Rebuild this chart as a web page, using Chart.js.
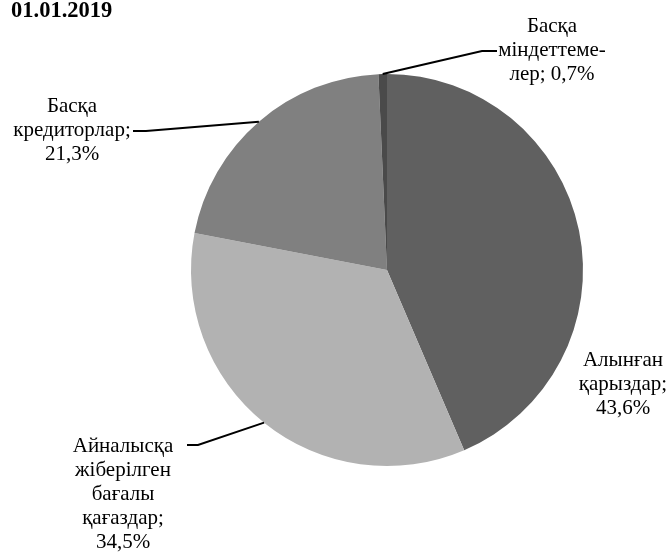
<!DOCTYPE html>
<html>
<head>
<meta charset="utf-8">
<script src="https://cdn.jsdelivr.net/npm/chart.js@4.4.0/dist/chart.umd.min.js"></script>
<style>
  html, body { margin: 0; padding: 0; background: #fff; }
  #wrap { position: relative; width: 670px; height: 552px; }
</style>
</head>
<body>
<div id="wrap"><canvas id="pieChart" width="670" height="552"></canvas></div>
<script>
// Data
const title = '01.01.2019';
const categories = [
    ['Алынған', 'қарыздар;'],
    ['Айналысқа', 'жіберілген', 'бағалы', 'қағаздар;'],
    ['Басқа', 'кредиторлар;'],
    ['Басқа', 'міндеттеме-']
];
const shares = [43.6, 34.5, 21.3, 0.7];
const colors = ['#606060', '#b2b2b2', '#808080', '#4a4a4a'];

// label placement (layout only): centre x, first baseline, leader elbow/end
const labelLayout = [
    { x: 623, y: 366, line: null },
    { x: 123, y: 452, line: [[198, 445], [187, 445]] },
    { x: 72, y: 112, line: [[146, 131], [133, 131]] },
    { x: 552, y: 32, line: [[482, 51], [497, 51]] }
];

function fmt(v) {
    return v.toFixed(1).replace('.', ',') + '%';
}

function labelLines(i) {
    const lines = categories[i].slice();
    const pct = fmt(shares[i]);
    if (i === 3) {
        lines.push('лер; ' + pct);
    } else {
        lines.push(pct);
    }
    return lines;
}

const labelPlugin = {
    id: 'pieLabels',
    afterDraw(chart) {
        const ctx = chart.ctx;
        const meta = chart.getDatasetMeta(0);
        ctx.save();

        // title
        ctx.fillStyle = '#000';
        ctx.font = 'bold 22.5px "Liberation Serif"';
        ctx.textAlign = 'left';
        ctx.textBaseline = 'alphabetic';
        ctx.fillText(title, 11, 17);

        meta.data.forEach((arc, i) => {
            const lay = labelLayout[i];
            const p = arc.getProps(['x', 'y', 'startAngle', 'endAngle', 'outerRadius'], true);
            const mid = (p.startAngle + p.endAngle) / 2;
            const ax = p.x + Math.cos(mid) * p.outerRadius;
            const ay = p.y + Math.sin(mid) * p.outerRadius;

            if (lay.line) {
                ctx.strokeStyle = '#000';
                ctx.lineWidth = 2;
                ctx.beginPath();
                ctx.moveTo(ax, ay);
                lay.line.forEach(pt => ctx.lineTo(pt[0], pt[1]));
                ctx.stroke();
            }

            ctx.fillStyle = '#000';
            ctx.font = '21px "Liberation Serif"';
            ctx.textAlign = 'center';
            labelLines(i).forEach((t, k) => {
                ctx.fillText(t, lay.x, lay.y + k * 24);
            });
        });
        ctx.restore();
    }
};

new Chart(document.getElementById('pieChart'), {
    type: 'pie',
    data: {
        labels: categories.map(c => c.join(' ')),
        datasets: [{
            data: shares,
            backgroundColor: colors,
            borderWidth: 0
        }]
    },
    options: {
        responsive: false,
        animation: false,
        rotation: 0,
        layout: {
            padding: { left: 191, right: 87, top: 74, bottom: 86 }
        },
        plugins: {
            legend: { display: false },
            tooltip: { enabled: false }
        }
    },
    plugins: [labelPlugin]
});
</script>
</body>
</html>
